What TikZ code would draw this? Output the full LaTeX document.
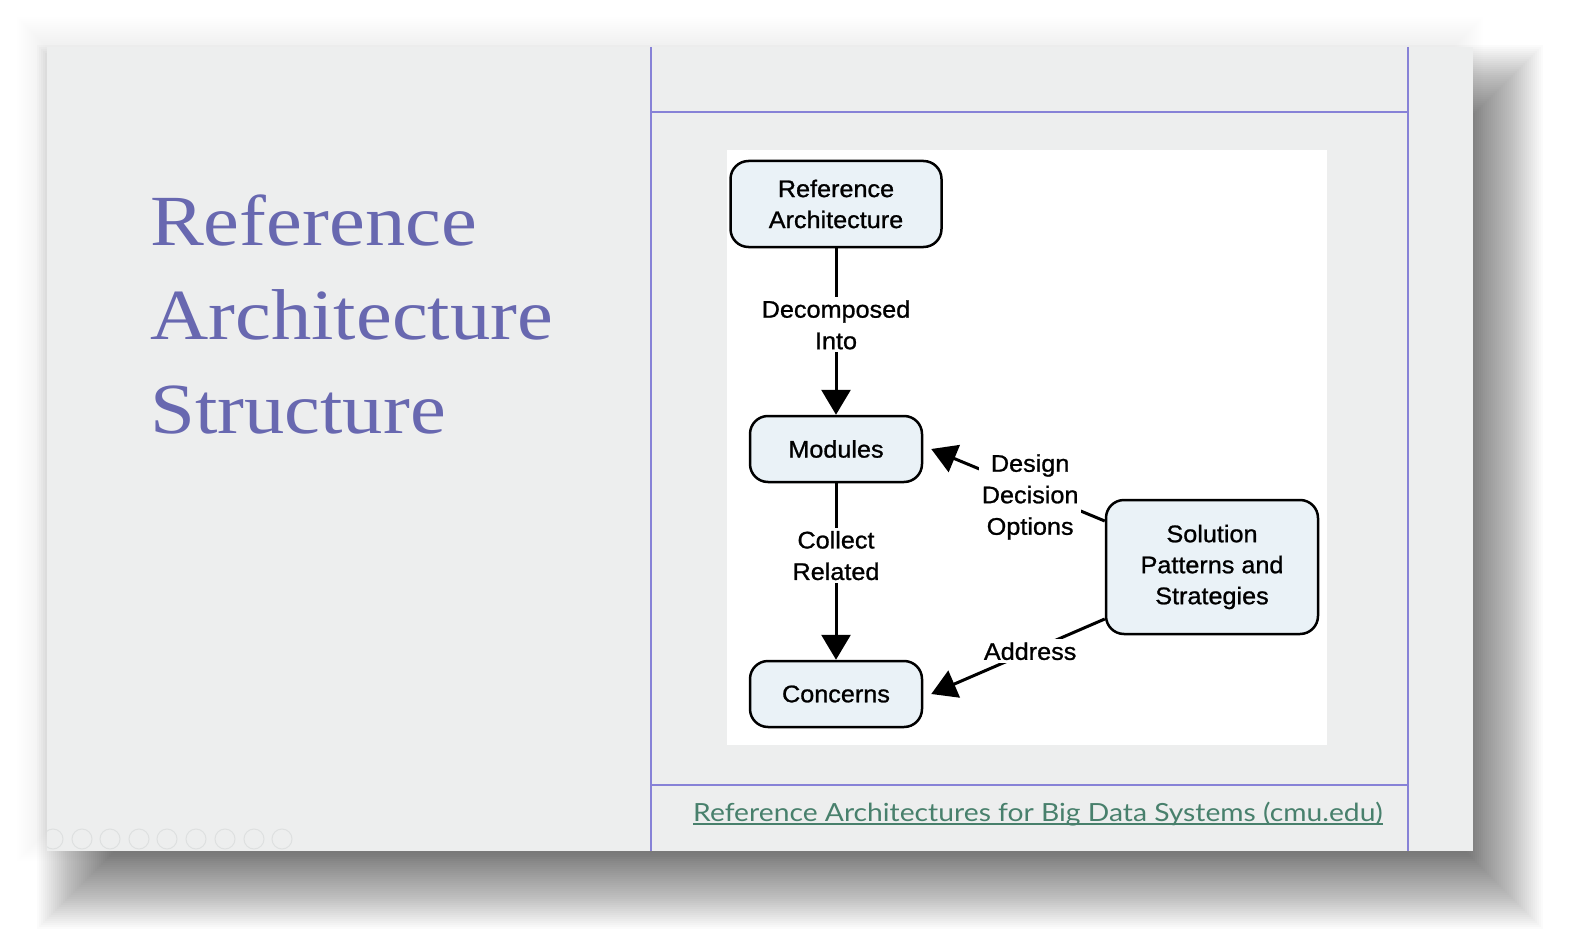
\documentclass[tikz,border=0pt]{standalone}
\usepackage{fontspec}
\newfontfamily\diagfont{Liberation Sans}[FakeStretch=1.05,FakeBold=1.0]
\newfontfamily\linkfont{Lato}[FakeStretch=1.13]
\newfontfamily\titlefont{Liberation Serif}[FakeStretch=1.12]
\usetikzlibrary{arrows.meta,calc}
\definecolor{slidebg}{RGB}{237,238,238}
\definecolor{titlecol}{RGB}{104,104,176}
\definecolor{rulecol}{RGB}{135,130,215}
\definecolor{boxfill}{RGB}{234,242,247}
\definecolor{linkcol}{RGB}{72,128,108}
\definecolor{iconcol}{RGB}{222,224,224}
\tikzset{
  box/.style={draw=black, line width=2.5pt, rounded corners=18pt, fill=boxfill,
    font=\diagfont\fontsize{24}{31}\selectfont, align=center, inner sep=0pt},
  arr/.style={line width=3pt, -{Triangle[length=25pt,width=29pt]}},
  lbl/.style={fill=white, font=\diagfont\fontsize{24}{31.5}\selectfont, align=center, inner sep=3pt},
  rulel/.style={draw=rulecol, line width=2pt},
  titletext/.style={anchor=base west, inner sep=0pt, text=titlecol, font=\titlefont\fontsize{72}{90}\selectfont},
}
\begin{document}
\begin{tikzpicture}[x=1pt,y=-1pt]
\useasboundingbox (0,0) rectangle (1572,947);
\fill[white] (0,0) rectangle (1572,947);
% faint halo around the slide
\foreach \k in {0,...,14} {
  \fill[black, opacity=0.004] (47-30+2*\k, 47-30+2*\k) rectangle (1473+10-2*\k, 851+10-2*\k);
}
% drop shadow
\foreach \k in {0,...,39} {
  \fill[black, opacity=0.017] (37+2*\k, 45+2*\k) rectangle (1543-2*\k, 929-2*\k);
}
% slide
\fill[slidebg] (47,47) rectangle (1473,851);
% rules
\draw[rulel] (651,47) -- (651,851);
\draw[rulel] (1408,47) -- (1408,851);
\draw[rulel] (651,112) -- (1408,112);
\draw[rulel] (651,785) -- (1408,785);
% toolbar icons
\begin{scope}
\clip (47,47) rectangle (1473,851);
\foreach \x in {53,82,110,139,167,196,225,254,282} {
  \draw[iconcol, line width=1pt] (\x,839) circle (10pt);
}
\end{scope}
% title
\node[titletext] (t1) at (150,245) {Reference};
\node[titletext] (t2) at (150,339) {Architecture};
\node[titletext] (t3) at (150,433) {Structure};
% image area
\fill[white] (727,150) rectangle (1327,745);
% nodes
\node[box, minimum width=211pt, minimum height=86pt] (ra) at (836,204) {Reference\\Architecture};
\node[box, minimum width=172pt, minimum height=66pt] (mod) at (836,449) {Modules};
\node[box, minimum width=172pt, minimum height=66pt] (con) at (836,694) {Concerns};
\node[box, minimum width=212pt, minimum height=134pt] (sol) at (1212,567) {Solution\\Patterns and\\Strategies};
% connectors
\draw[arr] (ra) -- node[lbl, pos=0.46] (l1) {Decomposed\\Into} (mod);
\draw[arr] (mod) -- node[lbl, pos=0.41] (l2) {Collect\\Related} (con);
\draw[arr] ([yshift=46pt]sol.west) -- node[lbl, pos=0.43, yshift=-7pt] (l3) {Design\\Decision\\Options} ([xshift=8pt]mod.east);
\draw[arr] ([yshift=-52pt]sol.west) -- node[lbl, pos=0.43] (l4) {Address} ([xshift=8pt]con.east);
% link
\node[anchor=base west, inner sep=0pt, text=linkcol, font=\linkfont\fontsize{25}{30}\selectfont] (link) at (693,821) {Reference Architectures for Big Data Systems (cmu.edu)};
\draw[linkcol, line width=1.2pt] ([yshift=-3pt]link.base west) -- ([yshift=-3pt]link.base east);
\end{tikzpicture}
\end{document}
